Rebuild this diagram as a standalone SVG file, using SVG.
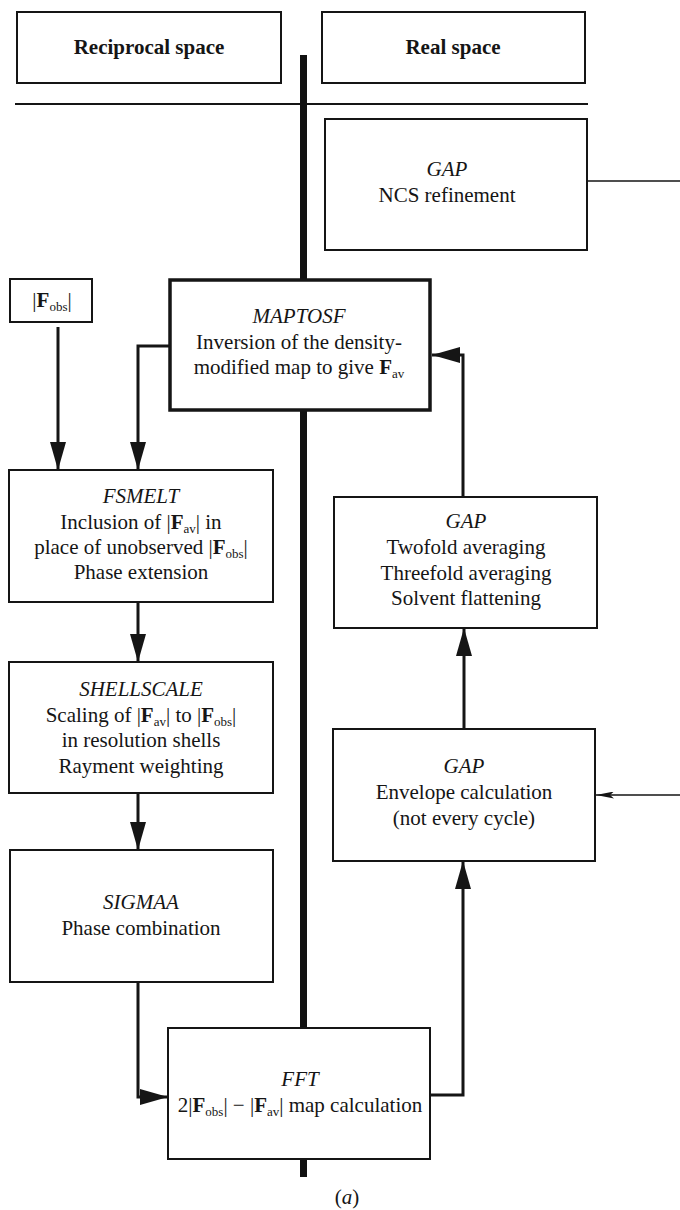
<svg xmlns="http://www.w3.org/2000/svg" width="680" height="1210" viewBox="0 0 680 1210">
<style>
.box{fill:#fff;stroke:#151515;stroke-width:2}
.boxb{fill:#fff;stroke:#151515;stroke-width:3.5}
.t{font-family:"Liberation Serif","Times New Roman",serif;font-size:21px;fill:#151515;text-anchor:middle}
.hd{font-weight:bold}
.it{font-style:italic}
.b{font-weight:bold}
.s{font-size:13px}
.con{fill:none;stroke:#151515;stroke-width:3}
.thin{fill:none;stroke:#151515;stroke-width:1.6}
</style>
<defs>
<marker id="ah" markerUnits="userSpaceOnUse" markerWidth="28" markerHeight="16" refX="28" refY="8" orient="auto">
<path d="M0,0 L28,8 L0,16 z" fill="#151515"/>
</marker>
<marker id="ahs" markerUnits="userSpaceOnUse" markerWidth="18" markerHeight="7" refX="18" refY="3.5" orient="auto">
<path d="M0,0 L18,3.5 L0,7 L4,3.5 z" fill="#151515"/>
</marker>
</defs>
<rect width="680" height="1210" fill="#fff"/>

<g id="divider">
<line x1="15" y1="104" x2="588" y2="104" stroke="#151515" stroke-width="2"/>
<line x1="303.5" y1="55" x2="303.5" y2="1177" stroke="#111" stroke-width="7"/>
</g>

<g id="connectors">
<path class="con" d="M58,327 V470" marker-end="url(#ah)"/>
<path class="con" d="M170,346 H138 V470" marker-end="url(#ah)"/>
<path class="con" d="M138,602 V662" marker-end="url(#ah)"/>
<path class="con" d="M138,793 V850" marker-end="url(#ah)"/>
<path class="con" d="M138,982 V1097 H168" marker-end="url(#ah)"/>
<path class="con" d="M430,1095 H463 V861" marker-end="url(#ah)"/>
<path class="con" d="M464,729 V628" marker-end="url(#ah)"/>
<path class="con" d="M463,497 V355 H432" marker-end="url(#ah)"/>
<path class="thin" d="M587,181 H680"/>
<path class="thin" d="M680,795 H596" marker-end="url(#ahs)"/>
</g>

<g id="reciprocal">
<rect class="box" x="17" y="12" width="264" height="71"/>
<text class="t hd" x="149" y="54">Reciprocal space</text>
</g>
<g id="real">
<rect class="box" x="322" y="12" width="263" height="71"/>
<text class="t hd" x="453" y="54">Real space</text>
</g>

<g id="ncs">
<rect class="box" x="325" y="119" width="262" height="131"/>
<text class="t it" x="447" y="176">GAP</text>
<text class="t" x="447" y="202">NCS refinement</text>
</g>

<g id="fobs">
<rect class="box" x="10" y="279" width="82" height="43"/>
<text class="t" x="52" y="307">|<tspan class="b">F</tspan><tspan class="s" dy="4">obs</tspan><tspan dy="-4">|</tspan></text>
</g>

<g id="maptosf">
<rect class="boxb" x="170" y="280" width="260" height="130"/>
<text class="t it" x="299" y="323">MAPTOSF</text>
<text class="t" x="299" y="349">Inversion of the density-</text>
<text class="t" x="299" y="374">modified map to give <tspan class="b">F</tspan><tspan class="s" dy="4">av</tspan></text>
</g>

<g id="fsmelt">
<rect class="box" x="9" y="470" width="264" height="132"/>
<text class="t it" x="141" y="503">FSMELT</text>
<text class="t" x="141" y="529">Inclusion of |<tspan class="b">F</tspan><tspan class="s" dy="4">av</tspan><tspan dy="-4">| in</tspan></text>
<text class="t" x="141" y="554">place of unobserved |<tspan class="b">F</tspan><tspan class="s" dy="4">obs</tspan><tspan dy="-4">|</tspan></text>
<text class="t" x="141" y="579">Phase extension</text>
</g>

<g id="shellscale">
<rect class="box" x="9" y="662" width="264" height="131"/>
<text class="t it" x="141" y="696">SHELLSCALE</text>
<text class="t" x="141" y="722">Scaling of |<tspan class="b">F</tspan><tspan class="s" dy="4">av</tspan><tspan dy="-4">| to |</tspan><tspan class="b">F</tspan><tspan class="s" dy="4">obs</tspan><tspan dy="-4">|</tspan></text>
<text class="t" x="141" y="747">in resolution shells</text>
<text class="t" x="141" y="773">Rayment weighting</text>
</g>

<g id="sigmaa">
<rect class="box" x="10" y="850" width="263" height="132"/>
<text class="t it" x="141" y="909">SIGMAA</text>
<text class="t" x="141" y="935">Phase combination</text>
</g>

<g id="fft">
<rect class="box" x="168" y="1028" width="262" height="131"/>
<text class="t it" x="300" y="1086">FFT</text>
<text class="t" x="300" y="1112">2|<tspan class="b">F</tspan><tspan class="s" dy="4">obs</tspan><tspan dy="-4">| − |</tspan><tspan class="b">F</tspan><tspan class="s" dy="4">av</tspan><tspan dy="-4">| map calculation</tspan></text>
</g>

<g id="averaging">
<rect class="box" x="334" y="497" width="263" height="131"/>
<text class="t it" x="466" y="528">GAP</text>
<text class="t" x="466" y="554">Twofold averaging</text>
<text class="t" x="466" y="580">Threefold averaging</text>
<text class="t" x="466" y="605">Solvent flattening</text>
</g>

<g id="envelope">
<rect class="box" x="333" y="729" width="262" height="132"/>
<text class="t it" x="464" y="773">GAP</text>
<text class="t" x="464" y="799">Envelope calculation</text>
<text class="t" x="464" y="825">(not every cycle)</text>
</g>

<text class="t" x="347" y="1204">(<tspan class="it">a</tspan>)</text>
</svg>
